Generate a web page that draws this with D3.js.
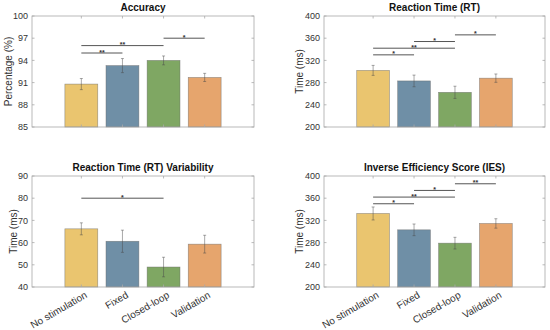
<!DOCTYPE html>
<html>
<head>
<meta charset="utf-8">
<script src="https://cdn.jsdelivr.net/npm/d3@7"></script>
<style>
  body { margin: 0; background: #fff; }
  svg { display: block; font-family: "Liberation Sans", Arial, sans-serif; }
</style>
</head>
<body>
<svg id="chart" width="550" height="330"></svg>
<script>
// categories and values
const categories = ["No stimulation", "Fixed", "Closed-loop", "Validation"];
const barColors = ["#EAC56F", "#6F8FA6", "#7FA763", "#E6A56D"];

const accuracyMean = [90.8, 93.3, 94.0, 91.7];
const accuracyErr = [0.75, 0.95, 0.6, 0.55];
const accuracyTicks = [85, 88, 91, 94, 97, 100];
const accuracySig = [[0, 1, 95, "**"], [0, 2, 96, "**"], [2, 3, 97, "*"]];

const rtMean = [302, 283, 262.5, 288];
const rtErr = [9, 10.5, 11, 7.5];
const rtTicks = [200, 240, 280, 320, 360, 400];
const rtSig = [[0, 1, 330, "*"], [0, 2, 342, "**"], [1, 2, 354, "*"], [2, 3, 366, "*"]];

const rtvMean = [66.2, 60.6, 49.0, 59.3];
const rtvErr = [2.7, 5.0, 4.4, 4.0];
const rtvTicks = [40, 50, 60, 70, 80, 90];
const rtvSig = [[0, 2, 80, "*"]];

const iesMean = [332.5, 303, 279, 314.5];
const iesErr = [11.7, 10.5, 10.5, 8.5];
const iesTicks = [200, 240, 280, 320, 360, 400];
const iesSig = [[0, 1, 350, "*"], [0, 2, 362, "**"], [1, 2, 374, "*"], [2, 3, 386, "**"]];

const svg = d3.select("#chart");

const panels = [
  {title: "Accuracy", ylabel: "Percentage (%)", mean: accuracyMean, err: accuracyErr,
   ticks: accuracyTicks, sig: accuracySig, x0: 32, x1: 254, y0: 16, y1: 127, labX: 8, xlabels: false},
  {title: "Reaction Time (RT)", ylabel: "Time (ms)", mean: rtMean, err: rtErr,
   ticks: rtTicks, sig: rtSig, x0: 324, x1: 545, y0: 16, y1: 127, labX: 299, xlabels: false},
  {title: "Reaction Time (RT) Variability", ylabel: "Time (ms)", mean: rtvMean, err: rtvErr,
   ticks: rtvTicks, sig: rtvSig, x0: 32, x1: 254, y0: 176, y1: 287, labX: 13, xlabels: true},
  {title: "Inverse Efficiency Score (IES)", ylabel: "Time (ms)", mean: iesMean, err: iesErr,
   ticks: iesTicks, sig: iesSig, x0: 324, x1: 545, y0: 176, y1: 287, labX: 299, xlabels: true}
];

panels.forEach(p => {
  const x = d3.scaleLinear().domain([-0.2, 5.2]).range([p.x0, p.x1]);
  const y = d3.scaleLinear().domain(d3.extent(p.ticks)).range([p.y1, p.y0]);
  const g = svg.append("g");
  const idx = d3.range(categories.length);
  const bw = x(0.8) - x(0);

  // bars
  g.selectAll("rect.bar").data(idx).join("rect")
    .attr("class", "bar")
    .attr("x", i => x(i + 1) - bw / 2)
    .attr("width", bw)
    .attr("y", i => y(p.mean[i]))
    .attr("height", i => y(p.ticks[0]) - y(p.mean[i]))
    .attr("fill", i => barColors[i])
    .attr("stroke", "#6b6b6b")
    .attr("stroke-opacity", 0.7)
    .attr("stroke-width", 0.6);

  // error bars
  const eb = g.selectAll("g.err").data(idx).join("g").attr("class", "err")
    .attr("stroke", "#4a4a4a").attr("stroke-width", 0.6).attr("stroke-opacity", 0.8);
  eb.append("line")
    .attr("x1", i => x(i + 1)).attr("x2", i => x(i + 1))
    .attr("y1", i => y(p.mean[i] - p.err[i])).attr("y2", i => y(p.mean[i] + p.err[i]));
  eb.append("line")
    .attr("x1", i => x(i + 1) - 1.5).attr("x2", i => x(i + 1) + 1.5)
    .attr("y1", i => y(p.mean[i] + p.err[i])).attr("y2", i => y(p.mean[i] + p.err[i]));
  eb.append("line")
    .attr("x1", i => x(i + 1) - 1.5).attr("x2", i => x(i + 1) + 1.5)
    .attr("y1", i => y(p.mean[i] - p.err[i])).attr("y2", i => y(p.mean[i] - p.err[i]));

  // box
  g.append("rect")
    .attr("x", p.x0).attr("y", p.y0)
    .attr("width", p.x1 - p.x0).attr("height", p.y1 - p.y0)
    .attr("fill", "none").attr("stroke", "#a8a8a8").attr("stroke-width", 0.8);

  // ticks (inward, all sides)
  const ticks = g.append("g").attr("stroke", "#a8a8a8").attr("stroke-width", 0.8);
  p.ticks.forEach(t => {
    ticks.append("line").attr("x1", p.x0).attr("x2", p.x0 + 2.5).attr("y1", y(t)).attr("y2", y(t));
    ticks.append("line").attr("x1", p.x1).attr("x2", p.x1 - 2.5).attr("y1", y(t)).attr("y2", y(t));
  });
  idx.forEach(i => {
    ticks.append("line").attr("x1", x(i + 1)).attr("x2", x(i + 1)).attr("y1", p.y1).attr("y2", p.y1 - 2.5);
    ticks.append("line").attr("x1", x(i + 1)).attr("x2", x(i + 1)).attr("y1", p.y0).attr("y2", p.y0 + 2.5);
  });

  g.selectAll("text.ytick").data(p.ticks).join("text")
    .attr("class", "ytick")
    .attr("x", p.x0 - 4)
    .attr("y", t => y(t))
    .attr("dy", "0.35em")
    .attr("text-anchor", "end")
    .attr("font-size", 9)
    .attr("fill", "#333")
    .text(t => t);

  if (p.xlabels) {
    g.selectAll("text.xtick").data(idx).join("text")
      .attr("class", "xtick")
      .attr("transform", i => `translate(${x(i + 1) + 3},${p.y1 + 4}) rotate(-30)`)
      .attr("dy", "0.7em")
      .attr("text-anchor", "end")
      .attr("font-size", 10)
      .attr("fill", "#333")
      .text(i => categories[i]);
  }

  // title and y label
  g.append("text")
    .attr("x", (p.x0 + p.x1) / 2).attr("y", p.y0 - 5)
    .attr("text-anchor", "middle")
    .attr("font-size", 10).attr("font-weight", "bold").attr("fill", "#111")
    .text(p.title);

  g.append("text")
    .attr("transform", `translate(${p.labX},${(p.y0 + p.y1) / 2}) rotate(-90)`)
    .attr("dy", "0.35em")
    .attr("text-anchor", "middle")
    .attr("font-size", 10).attr("fill", "#333")
    .text(p.ylabel);

  // significance brackets
  const sg = g.selectAll("g.sig").data(p.sig).join("g").attr("class", "sig");
  sg.append("line")
    .attr("x1", d => x(d[0] + 1)).attr("x2", d => x(d[1] + 1))
    .attr("y1", d => y(d[2])).attr("y2", d => y(d[2]))
    .attr("stroke", "#555").attr("stroke-width", 1);
  sg.append("text")
    .attr("x", d => (x(d[0] + 1) + x(d[1] + 1)) / 2)
    .attr("y", d => y(d[2]) + 1.5)
    .attr("text-anchor", "middle")
    .attr("font-size", 7).attr("font-weight", "bold").attr("fill", "#333")
    .text(d => d[3]);
});
</script>
</body>
</html>
